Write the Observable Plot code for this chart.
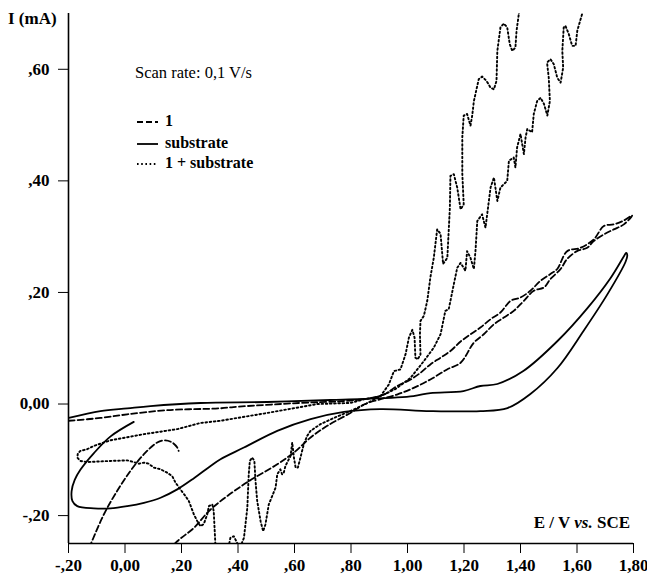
<!DOCTYPE html>
<html>
<head>
<meta charset="utf-8">
<script src="https://cdn.jsdelivr.net/npm/d3@7"></script>
<script src="https://cdn.jsdelivr.net/npm/@observablehq/plot@0.6"></script>
<style>
  html, body { margin: 0; padding: 0; background: white; }
  #chart { width: 647px; height: 579px; }
</style>
</head>
<body>
<div id="chart"></div>
<script>
// Axis domains and tick values
const xDomain = [-0.2, 1.8];
const yDomain = [-0.25, 0.70];
const xTicks = [-0.2, 0, 0.2, 0.4, 0.6, 0.8, 1.0, 1.2, 1.4, 1.6, 1.8];
const yTicks = [-0.2, 0, 0.2, 0.4, 0.6];

// Series names
const seriesNames = ["1", "substrate", "1 + substrate"];

// Curve "substrate" (solid) — [E (V), I (mA)] in scan order
const substrateCurve = [
  [-0.199,-0.025],[-0.087,-0.0126],[0.008,-0.0077],[0.090,-0.0036],[0.267,0.0018],[0.504,0.0036],
  [0.727,0.0072],[0.844,0.009],[1.021,0.0143],[1.081,0.0197],[1.198,0.0233],[1.258,0.0323],
  [1.318,0.0359],[1.41,0.0592],[1.531,0.113],[1.637,0.172],[1.719,0.226],[1.765,0.264],
  [1.774,0.271],[1.778,0.266],[1.772,0.255],[1.708,0.197],[1.623,0.131],[1.531,0.0646],
  [1.435,0.018],[1.354,-0.0072],[1.258,-0.0126],[1.081,-0.0126],[0.904,-0.009],[0.775,-0.014],
  [0.657,-0.027],[0.539,-0.048],[0.421,-0.078],[0.338,-0.099],[0.303,-0.111],[0.244,-0.133],
  [0.185,-0.153],[0.126,-0.168],[0.067,-0.177],[0.008,-0.183],[-0.051,-0.187],[-0.110,-0.187],
  [-0.169,-0.183],[-0.186,-0.174],[-0.189,-0.156],[-0.178,-0.136],[-0.158,-0.118],[-0.110,-0.088],
  [-0.051,-0.058],[0.031,-0.032]
];

// Curve "1" (dashed)
const curve1 = [
  [-0.199,-0.030],[-0.087,-0.025],[0.008,-0.0185],[0.150,-0.011],[0.338,-0.0077],[0.384,-0.0054],
  [0.621,0.002],[0.763,0.005],[0.85,0.009],[0.916,0.017],[0.963,0.032],[1.011,0.044],[1.046,0.056],
  [1.081,0.071],[1.117,0.083],[1.152,0.095],[1.188,0.112],[1.223,0.125],[1.258,0.137],[1.294,0.152],
  [1.329,0.164],[1.365,0.185],[1.40,0.191],[1.435,0.203],[1.471,0.221],[1.506,0.233],[1.53,0.242],
  [1.565,0.274],[1.612,0.280],[1.659,0.295],[1.695,0.319],[1.73,0.322],[1.766,0.329],[1.795,0.338],
  [1.766,0.322],[1.73,0.313],[1.695,0.304],[1.659,0.292],[1.636,0.280],[1.60,0.274],[1.565,0.26],
  [1.542,0.242],[1.506,0.224],[1.483,0.209],[1.447,0.203],[1.412,0.185],[1.376,0.167],[1.341,0.155],
  [1.306,0.143],[1.27,0.125],[1.235,0.110],[1.188,0.074],[1.14,0.062],[1.081,0.044],[1.022,0.029],
  [0.963,0.017],[0.90,0.008],[0.85,0.0],[0.798,-0.016],[0.716,-0.039],[0.657,-0.06],[0.598,-0.087],
  [0.539,-0.108],[0.421,-0.144],[0.303,-0.189],[0.244,-0.222],[0.185,-0.246],[0.10,-0.29],
  [0.0,-0.33],[-0.10,-0.36],[-0.19,-0.37],[-0.17,-0.31],[-0.122,-0.252],[-0.075,-0.198],
  [-0.028,-0.156],[0.019,-0.120],[0.067,-0.090],[0.114,-0.069],[0.143,-0.065],[0.167,-0.069],
  [0.185,-0.078],[0.19,-0.084]
];

// Curve "1 + substrate" (dotted)
const curveMix = [
  [1.63,0.72],[1.618,0.699],[1.601,0.669],[1.595,0.642],[1.583,0.642],[1.571,0.663],[1.559,0.678],
  [1.553,0.675],[1.548,0.633],[1.551,0.603],[1.542,0.576],[1.53,0.585],[1.518,0.609],[1.506,0.618],
  [1.494,0.612],[1.50,0.585],[1.504,0.543],[1.495,0.517],[1.483,0.538],[1.471,0.549],[1.459,0.543],
  [1.447,0.520],[1.441,0.487],[1.424,0.493],[1.418,0.478],[1.412,0.448],[1.40,0.484],[1.388,0.460],
  [1.382,0.424],[1.376,0.442],[1.359,0.436],[1.353,0.400],[1.329,0.388],[1.318,0.364],[1.306,0.406],
  [1.294,0.388],[1.282,0.340],[1.276,0.316],[1.264,0.340],[1.247,0.328],[1.241,0.277],[1.235,0.242],
  [1.223,0.262],[1.211,0.274],[1.205,0.239],[1.188,0.253],[1.176,0.244],[1.164,0.215],[1.146,0.170],
  [1.134,0.167],[1.117,0.125],[1.093,0.101],[1.058,0.077],[1.011,0.047],[0.958,0.027],[0.904,0.014],
  [0.851,0.009],[0.798,0.002],[0.681,0.0],[0.504,-0.016],[0.338,-0.030],[0.267,-0.034],[0.185,-0.045],
  [0.067,-0.054],[-0.051,-0.065],[-0.110,-0.075],[-0.134,-0.081],[-0.158,-0.084],[-0.167,-0.089],
  [-0.169,-0.096],[-0.158,-0.102],[-0.134,-0.104],[-0.051,-0.102],[0.008,-0.101],[0.031,-0.104],
  [0.049,-0.107],[0.067,-0.105],[0.084,-0.107],[0.102,-0.114],[0.126,-0.117],[0.149,-0.123],
  [0.167,-0.129],[0.179,-0.141],[0.196,-0.153],[0.214,-0.165],[0.226,-0.174],[0.244,-0.198],
  [0.256,-0.210],[0.267,-0.219],[0.279,-0.215],[0.291,-0.198],[0.297,-0.183],[0.309,-0.180],
  [0.314,-0.192],[0.317,-0.222],[0.320,-0.252],[0.34,-0.28],[0.365,-0.26],[0.373,-0.240],
  [0.385,-0.237],[0.397,-0.249],[0.405,-0.26],[0.421,-0.240],[0.433,-0.186],[0.438,-0.126],
  [0.442,-0.102],[0.450,-0.096],[0.458,-0.102],[0.462,-0.138],[0.468,-0.174],[0.480,-0.210],
  [0.489,-0.228],[0.497,-0.216],[0.509,-0.180],[0.521,-0.165],[0.533,-0.150],[0.539,-0.126],
  [0.550,-0.117],[0.556,-0.126],[0.562,-0.123],[0.568,-0.111],[0.586,-0.093],[0.592,-0.069],
  [0.598,-0.096],[0.604,-0.114],[0.612,-0.114],[0.621,-0.096],[0.633,-0.072],[0.645,-0.057],
  [0.657,-0.048],[0.692,-0.036],[0.739,-0.025],[0.798,-0.0126],[0.851,0.0],[0.904,0.014],
  [0.934,0.035],[0.952,0.059],[0.975,0.062],[0.993,0.089],[1.005,0.119],[1.017,0.133],[1.025,0.119],
  [1.028,0.083],[1.036,0.080],[1.046,0.089],[1.044,0.125],[1.046,0.149],[1.058,0.158],[1.07,0.185],
  [1.081,0.227],[1.093,0.262],[1.105,0.313],[1.117,0.305],[1.126,0.251],[1.141,0.262],[1.150,0.352],
  [1.152,0.409],[1.164,0.412],[1.176,0.388],[1.188,0.349],[1.199,0.358],[1.194,0.413],[1.194,0.478],
  [1.199,0.517],[1.211,0.520],[1.223,0.499],[1.229,0.517],[1.235,0.543],[1.252,0.582],[1.264,0.587],
  [1.280,0.579],[1.294,0.567],[1.306,0.564],[1.315,0.579],[1.318,0.633],[1.329,0.675],[1.341,0.682],
  [1.353,0.675],[1.362,0.645],[1.371,0.633],[1.382,0.639],[1.386,0.669],[1.394,0.699],[1.40,0.72]
];

const toRows = arr => arr.map(([E, I]) => ({E, I}));

const fmt = v => {
  const a = Math.abs(v);
  let s = a.toFixed(2).replace(".", ",");
  if (a > 0 && a < 1) s = s.slice(1);
  return (v < -1e-9 ? "-" : "") + s;
};

const serif = '"Liberation Serif", "Times New Roman", serif';
const dotted = "1.6,2.6";
const dashed = "6,3";

const plot = Plot.plot({
  width: 647,
  height: 579,
  marginLeft: 68,
  marginRight: 14,
  marginTop: 13,
  marginBottom: 36,
  style: {fontFamily: serif, fontSize: "17px", fontWeight: "bold", color: "black", background: "white"},
  x: {domain: xDomain, ticks: xTicks, tickFormat: fmt, tickSize: 10, tickPadding: 5, label: null},
  y: {domain: yDomain, ticks: yTicks, tickFormat: fmt, tickSize: 10, tickPadding: 9, label: null},
  marks: [
    Plot.ruleX([xDomain[0]], {stroke: "black", strokeWidth: 1.6}),
    Plot.ruleY([yDomain[0]], {stroke: "black", strokeWidth: 1.6}),
    Plot.line(toRows(substrateCurve), {x: "E", y: "I", stroke: "black", strokeWidth: 1.8, curve: "catmull-rom", clip: true}),
    Plot.line(toRows(curve1), {x: "E", y: "I", stroke: "black", strokeWidth: 1.8, strokeDasharray: dashed, curve: "catmull-rom", clip: true}),
    Plot.line(toRows(curveMix), {x: "E", y: "I", stroke: "black", strokeWidth: 1.9, strokeDasharray: dotted, curve: "linear", clip: true})
  ]
});

const svg = d3.select(plot);
const addText = (x, y, str, size, weight, anchor) =>
  svg.append("text").attr("x", x).attr("y", y).attr("dominant-baseline", "middle")
    .attr("text-anchor", anchor || "start").attr("font-family", serif)
    .attr("font-size", size).attr("font-weight", weight).text(str);

// Axis titles
addText(8, 20, "I (mA)", 17, "bold", "start");
const xl = addText(630, 524, "", 17, "bold", "end");
xl.append("tspan").text("E / V ");
xl.append("tspan").attr("font-style", "italic").text("vs.");
xl.append("tspan").text(" SCE");

// Legend
addText(135, 74, "Scan rate: 0,1 V/s", 16.5, "normal", "start");
const legendDash = [dashed, null, dotted];
const legendY = [122, 144, 164];
seriesNames.forEach((name, i) => {
  const ln = svg.append("line").attr("x1", 137).attr("x2", 158).attr("y1", legendY[i]).attr("y2", legendY[i])
    .attr("stroke", "black").attr("stroke-width", 1.8);
  if (legendDash[i]) ln.attr("stroke-dasharray", legendDash[i]);
  addText(165, legendY[i], name, 16, "bold", "start");
});

document.getElementById("chart").appendChild(plot);
</script>
</body>
</html>
